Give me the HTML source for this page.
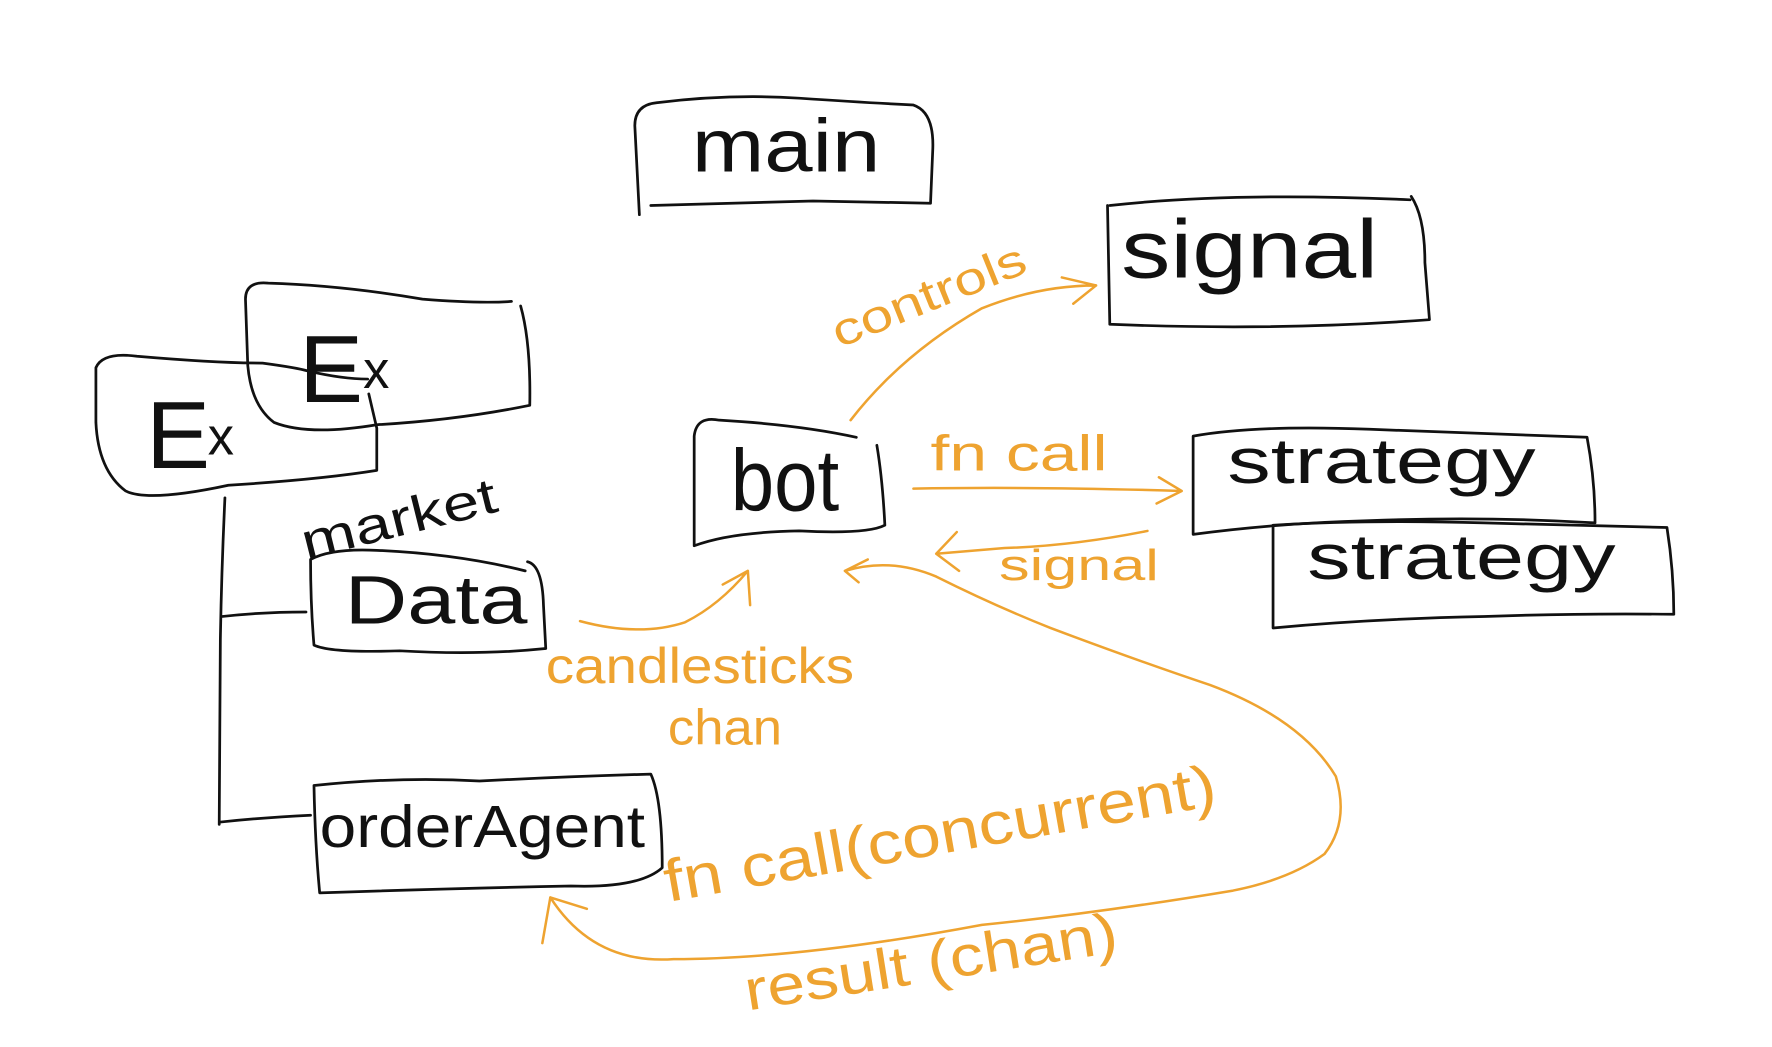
<!DOCTYPE html>
<html><head><meta charset="utf-8"><style>
html,body{margin:0;padding:0;background:#fff;}
svg{display:block;}
text{font-family:"Liberation Sans",sans-serif;}
</style></head><body>
<svg width="1772" height="1047" viewBox="0 0 1552 917" preserveAspectRatio="none" xmlns="http://www.w3.org/2000/svg">
<g fill="none" stroke="#111" stroke-width="2.4" stroke-linecap="round" stroke-linejoin="round">
<!-- main -->
<path d="M560,188 L556,110 Q556,92 575,90 Q640,82 700,86 Q760,90 800,92 Q818,98 817,130 L815,178 L712,176 Q640,178 570,180"/>
<!-- signal -->
<path d="M972,180 Q1080,168 1235,175 M1236,172 Q1248,190 1248,230 L1252,280 Q1120,290 972,284 L970,180"/>
<!-- Ex back -->
<path d="M448,264 Q420,266 370,262 Q300,250 235,248 Q215,246 215,262 L217,320 Q220,355 240,370 Q270,382 330,372 Q400,368 464,355 Q465,300 456,268"/>
<!-- Ex front -->
<path d="M322,332 Q300,332 270,325 Q260,322 230,318 Q190,318 120,312 Q90,308 84,322 L84,370 Q86,412 110,430 Q130,440 200,425 Q280,420 330,412 L330,375 L323,345"/>
<!-- bot -->
<path d="M750,383 Q700,372 630,368 Q610,364 608,382 L608,478 Q640,466 700,465 Q760,468 775,460 Q773,420 768,390"/>
<!-- strategy 1 -->
<path d="M1045,382 Q1100,372 1200,376 Q1300,380 1390,383 Q1397,420 1397,458 Q1300,452 1200,456 Q1120,458 1045,468 Z"/>
<!-- strategy 2 -->
<path d="M1115,460 Q1200,455 1300,458 Q1380,460 1460,462 Q1466,500 1466,538 Q1380,537 1300,540 Q1200,542 1115,550 Z"/>
<!-- Data -->
<path d="M460,500 Q400,485 330,482 Q290,480 272,490 Q272,530 275,565 Q290,572 350,570 Q420,574 478,568 L476,530 Q475,495 462,492"/>
<!-- orderAgent -->
<path d="M275,688 Q350,680 420,684 Q500,680 570,678 Q580,700 580,760 Q560,778 500,776 Q400,778 280,782 Q276,740 275,688"/>
<!-- tree -->
<path d="M197,436 Q194,500 193,560 L192,722 M194,540 Q230,536 268,536 M193,720 Q230,716 272,714"/>
</g>
<g fill="#111">
<text x="606" y="150" font-size="66" textLength="165" lengthAdjust="spacingAndGlyphs">main</text>
<text x="982" y="243" font-size="72" textLength="225" lengthAdjust="spacingAndGlyphs">signal</text>
<text x="262" y="352" font-size="84">E</text><text x="318" y="340" font-size="46">x</text>
<text x="128" y="410" font-size="84">E</text><text x="182" y="398" font-size="46">x</text>
<text x="268" y="490" font-size="44" transform="rotate(-14 268 490)" textLength="175" lengthAdjust="spacingAndGlyphs">market</text>
<text x="302" y="546" font-size="60" textLength="160" lengthAdjust="spacingAndGlyphs">Data</text>
<text x="640" y="447" font-size="76" textLength="95" lengthAdjust="spacingAndGlyphs">bot</text>
<text x="1075" y="423" font-size="56" textLength="270" lengthAdjust="spacingAndGlyphs">strategy</text>
<text x="1145" y="507" font-size="56" textLength="270" lengthAdjust="spacingAndGlyphs">strategy</text>
<text x="280" y="742" font-size="52" textLength="285" lengthAdjust="spacingAndGlyphs">orderAgent</text>
</g>
<g fill="none" stroke="#eea330" stroke-width="2.2" stroke-linecap="round" stroke-linejoin="round">
<path d="M745,368 Q790,310 860,270 Q910,250 960,250 M930,243 L960,250 L940,266"/>
<path d="M800,428 Q900,426 1035,430 M1015,418 L1035,430 L1013,441"/>
<path d="M1005,465 Q940,478 880,480 L820,485 M838,466 L820,485 L840,500"/>
<path d="M508,544 Q560,558 600,545 Q630,530 655,500 M633,512 L655,500 L657,530"/>
<path d="M740,500 Q780,488 820,505 Q870,530 920,550 Q1000,580 1060,600 Q1140,630 1170,680 Q1182,720 1160,748 Q1130,770 1080,780 Q960,800 860,810 Q700,840 590,840 Q520,845 482,786 M475,826 L482,786 L514,796 M760,490 L740,500 L752,510"/>
</g>
<g fill="#eea330">
<text x="735" y="305" font-size="40" transform="rotate(-22 735 305)" textLength="180" lengthAdjust="spacingAndGlyphs">controls</text>
<text x="815" y="412" font-size="44" textLength="155" lengthAdjust="spacingAndGlyphs">fn call</text>
<text x="875" y="508" font-size="38" textLength="140" lengthAdjust="spacingAndGlyphs">signal</text>
<text x="478" y="598" font-size="44" textLength="270" lengthAdjust="spacingAndGlyphs">candlesticks</text>
<text x="585" y="652" font-size="44" textLength="100" lengthAdjust="spacingAndGlyphs">chan</text>
<text x="585" y="790" font-size="52" transform="rotate(-10 585 790)" textLength="490" lengthAdjust="spacingAndGlyphs">fn call(concurrent)</text>
<text x="655" y="885" font-size="50" transform="rotate(-9 655 885)" textLength="330" lengthAdjust="spacingAndGlyphs">result (chan)</text>
</g>
</svg>
</body></html>
